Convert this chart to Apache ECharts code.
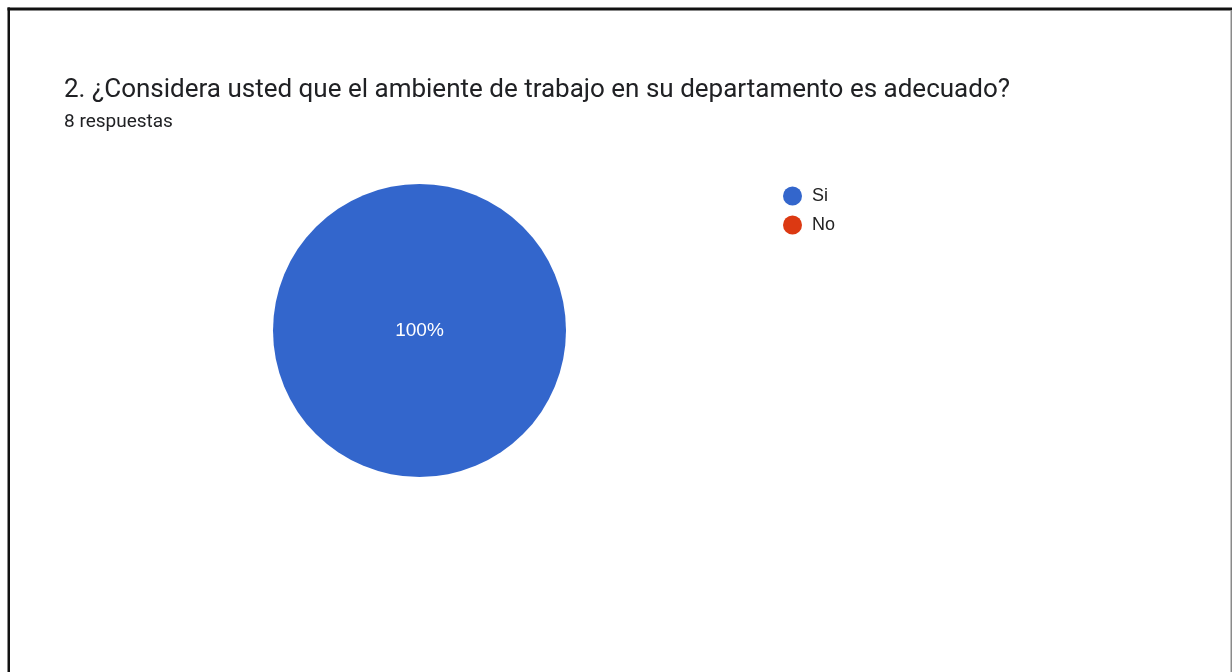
<!DOCTYPE html>
<html>
<head>
<meta charset="utf-8">
<script src="https://cdn.jsdelivr.net/npm/echarts@6/dist/echarts.min.js"></script>
<style>
  html, body { margin: 0; padding: 0; background: #ffffff; }
  #chart { width: 1232px; height: 672px; }
</style>
</head>
<body>
<div id="chart"></div>
<script>
// Survey question and answer counts
const questionTitle = '2. ¿Considera usted que el ambiente de trabajo en su departamento es adecuado?';
const responseNote = '8 respuestas';
const answers = ['Si', 'No'];
const counts = [8, 0];
const answerColors = ['#3366cc', '#dc3912'];

const total = counts.reduce((a, b) => a + b, 0);

const chart = echarts.init(document.getElementById('chart'), null, { renderer: 'canvas' });

chart.setOption({
  animation: false,
  backgroundColor: '#ffffff',
  color: answerColors,
  title: {
    text: questionTitle,
    subtext: responseNote,
    left: 64,
    top: 77,
    padding: 0,
    itemGap: 10,
    textStyle: {
      fontFamily: 'Roboto',
      fontSize: 26,
      fontWeight: 'normal',
      color: '#202124',
      lineHeight: 26
    },
    subtextStyle: {
      fontFamily: 'Roboto',
      fontSize: 19,
      color: '#202124',
      lineHeight: 19
    }
  },
  legend: {
    orient: 'vertical',
    left: 783,
    top: 186.5,
    padding: 0,
    icon: 'circle',
    itemWidth: 19,
    itemHeight: 19,
    itemGap: 10,
    textStyle: {
      fontFamily: 'Liberation Sans',
      fontSize: 18,
      color: '#222222',
      padding: [0, 0, 0, 5]
    },
    data: answers
  },
  series: [{
    type: 'pie',
    center: [419.5, 330.5],
    radius: [0, 146.5],
    startAngle: 90,
    clockwise: true,
    avoidLabelOverlap: false,
    itemStyle: { borderWidth: 0 },
    emphasis: { disabled: true },
    labelLine: { show: false },
    label: {
      show: true,
      position: 'center',
      fontFamily: 'Liberation Sans',
      fontSize: 19,
      color: '#ffffff',
      padding: [6, 0, 0, 0],
      formatter: p => p.value > 0 ? Math.round(p.value / total * 100) + '%' : ''
    },
    data: answers.map((name, i) => ({ name, value: counts[i] }))
  }],
  graphic: [
    // frame around the card
    { type: 'rect', shape: { x: 7.5, y: 7.5, width: 1226, height: 3 }, style: { fill: '#111111' }, silent: true },
    { type: 'rect', shape: { x: 7.5, y: 7.5, width: 2.5, height: 670 }, style: { fill: '#111111' }, silent: true },
    { type: 'rect', shape: { x: 1230.5, y: 10, width: 1.5, height: 662 }, style: { fill: '#8a8a8a' }, silent: true }
  ]
});
</script>
</body>
</html>
